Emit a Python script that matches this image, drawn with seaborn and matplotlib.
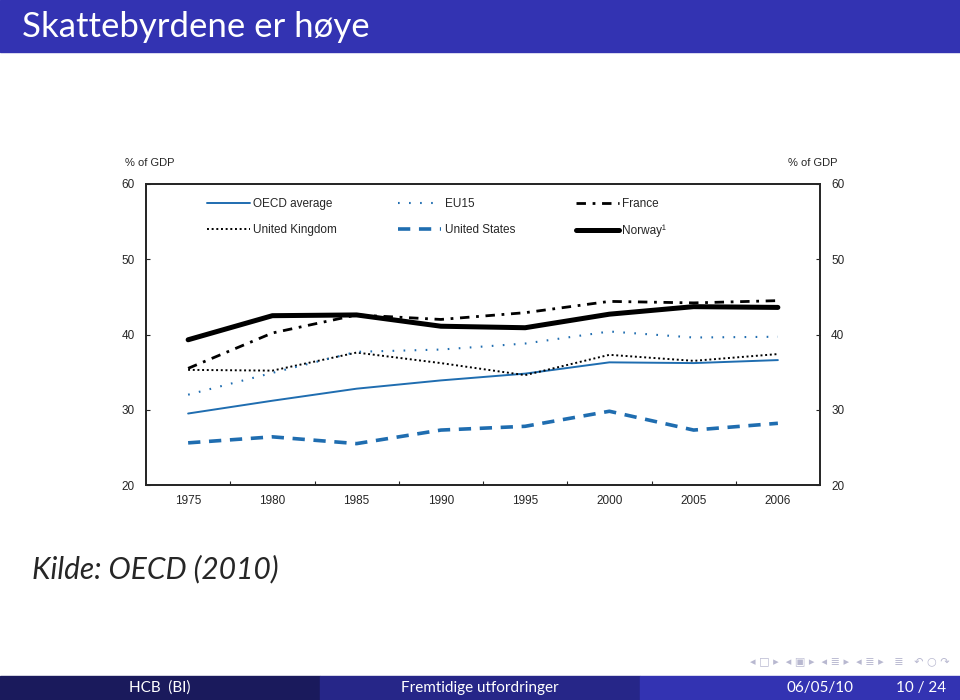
import pandas as pd
import seaborn as sns
import matplotlib.pyplot as plt
from matplotlib.patches import Rectangle

# Tax revenue, % of GDP
years = ["1975", "1980", "1985", "1990", "1995", "2000", "2005", "2006"]
oecd_avg = [29.5, 31.2, 32.8, 33.9, 34.8, 36.3, 36.2, 36.6]
eu15 = [32.0, 34.9, 37.7, 38.0, 38.8, 40.4, 39.6, 39.7]
france = [35.5, 40.2, 42.6, 42.0, 42.9, 44.4, 44.2, 44.5]
uk = [35.3, 35.2, 37.6, 36.2, 34.6, 37.3, 36.5, 37.4]
us = [25.6, 26.4, 25.5, 27.3, 27.8, 29.8, 27.3, 28.2]
norway = [39.3, 42.5, 42.6, 41.1, 40.9, 42.7, 43.7, 43.6]

y_ticks = [20, 30, 40, 50, 60]

title = "Skattebyrdene er høye"
source = "Kilde: OECD (2010)"
footer = ["HCB  (BI)", "Fremtidige utfordringer", "06/05/10", "10 / 24"]

blue = "#1f6db0"
slide_blue = "#3333b2"

sns.set_theme(style="white")
plt.rcParams["font.family"] = ["Liberation Sans", "DejaVu Sans"]

df = pd.DataFrame({"year": years, "OECD average": oecd_avg, "EU15": eu15,
                   "France": france, "United Kingdom": uk,
                   "United States": us, "Norway¹": norway})

# name -> (colour, linewidth, dash pattern)
styles = {
    "OECD average": (blue, 1.4, None),
    "United Kingdom": ("black", 1.4, (1, 1.4)),
    "EU15": (blue, 1.5, (0.8, 4.5)),
    "United States": (blue, 2.6, (3.4, 2.4)),
    "France": ("black", 2.0, (3.4, 2.4, 1, 2.4)),
    "Norway¹": ("black", 3.6, None),
}

fig = plt.figure(figsize=(9.6, 7), dpi=100)
ax = fig.add_axes([146 / 960, 1 - 485 / 700, 674 / 960, 301 / 700])

for name, (col, lw, dash) in styles.items():
    sns.lineplot(data=df, x="year", y=name, ax=ax, color=col,
                 linewidth=lw, label=name, sort=False)
    if dash is not None:
        ax.lines[-1].set_dashes(dash)

ax.set_xlim(-0.5, len(years) - 0.5)
ax.set_ylim(20, 60)
ax.set_yticks(y_ticks)
ax.set_xticks(range(len(years)))
ax.set_xticklabels(years)
ax.set_xticks([i + 0.5 for i in range(len(years) - 1)], minor=True)
ax.set_xlabel("")
ax.set_ylabel("")
ax.tick_params(axis="x", which="major", length=0, labelsize=8.5, pad=7)
ax.tick_params(axis="x", which="minor", direction="in", length=3, width=0.8,
               bottom=True)
ax.tick_params(axis="y", direction="in", length=3, width=0.8, labelsize=8.5,
               left=True, pad=8)
for s in ax.spines.values():
    s.set_color("black")
    s.set_linewidth(1.1)

ax2 = ax.twinx()
ax2.set_ylim(20, 60)
ax2.set_yticks(y_ticks)
ax2.tick_params(axis="y", direction="in", length=3, width=0.8, labelsize=8.5,
                right=True, pad=8)
ax2.spines["right"].set_linewidth(1.1)
ax2.grid(False)

ax.legend(loc="upper left", bbox_to_anchor=(0.075, 0.99), ncol=3,
          frameon=False, fontsize=8.5, handlelength=3.6, handletextpad=0.3,
          columnspacing=5.2, labelspacing=1.25)

fig.text(125 / 960, 1 - 163 / 700, "% of GDP", fontsize=8, va="center")
fig.text(838 / 960, 1 - 163 / 700, "% of GDP", fontsize=8, va="center",
         ha="right")

# beamer frame decorations
fig.patches.append(Rectangle((0, 1 - 52 / 700), 1, 52 / 700,
                             transform=fig.transFigure, color=slide_blue,
                             zorder=0))
fig.text(22 / 960, 1 - 27 / 700, title, color="white", fontsize=25,
         family="Lato", va="center")
fig.text(32 / 960, 1 - 569 / 700, source, fontsize=21.5, family="Lato",
         style="italic", va="center")

seg_cols = ["#1a1a5c", "#262688", slide_blue]
for i, c in enumerate(seg_cols):
    fig.patches.append(Rectangle((i / 3, 0), 1 / 3, 24 / 700,
                                 transform=fig.transFigure, color=c, zorder=0))
fig.text(160 / 960, 12 / 700, footer[0], color="white", fontsize=11,
         family="Lato", ha="center", va="center")
fig.text(480 / 960, 12 / 700, footer[1], color="white", fontsize=11,
         family="Lato", ha="center", va="center")
fig.text(820 / 960, 12 / 700, footer[2], color="white", fontsize=11,
         family="Lato", ha="center", va="center")
fig.text(946 / 960, 12 / 700, footer[3], color="white", fontsize=11,
         family="Lato", ha="right", va="center")
fig.text(950 / 960, 1 - 661 / 700,
         "◂ □ ▸  ◂ ▣ ▸  ◂ ≣ ▸  ◂ ≣ ▸   ≣   ↶ ○ ↷",
         color="#b8b8d0", fontsize=8, family="DejaVu Sans", ha="right",
         va="center")

fig.savefig("out.png", dpi=100)
